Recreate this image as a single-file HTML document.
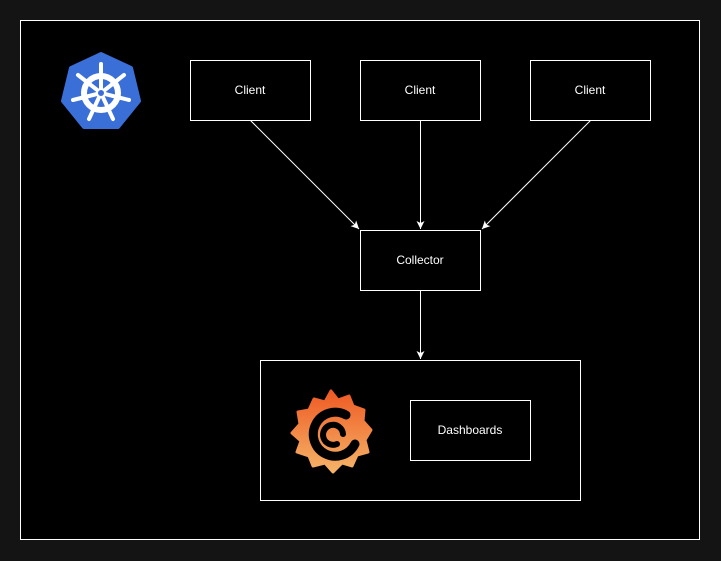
<!DOCTYPE html>
<html><head><style>
html,body{margin:0;padding:0;background:#141414;}
svg{display:block;font-family:"Liberation Sans",sans-serif;}
</style></head><body>
<svg width="721" height="561" viewBox="0 0 721 561" xmlns="http://www.w3.org/2000/svg">
<defs>
<marker id="a" markerWidth="10" markerHeight="10" refX="8" refY="5" orient="auto" markerUnits="userSpaceOnUse">
<path d="M0,1 L8,5 L0,9 L2,5 Z" fill="#fff"/>
</marker>
<linearGradient id="g" x1="0" y1="0" x2="0" y2="1">
<stop offset="0" stop-color="#ee5a24"/><stop offset="1" stop-color="#f5b468"/>
</linearGradient>
</defs>
<rect x="20.5" y="20.5" width="679" height="519" fill="#000" stroke="#fff"/>
<!-- kubernetes -->
<polygon points="101,54 131,68 139,101 118,127 84,127 63,101 71,68" fill="#3b6fd8" stroke="#3b6fd8" stroke-width="4" stroke-linejoin="round"/>
<g stroke="#fff" fill="none" stroke-linecap="round">
<circle cx="101" cy="93" r="17" stroke-width="6"/>
<g stroke-width="4">
<line x1="101" y1="93" x2="101" y2="64"/>
<line x1="101" y1="93" x2="124" y2="75"/>
<line x1="101" y1="93" x2="129" y2="100"/>
<line x1="101" y1="93" x2="113" y2="119"/>
<line x1="101" y1="93" x2="89" y2="119"/>
<line x1="101" y1="93" x2="73" y2="100"/>
<line x1="101" y1="93" x2="78" y2="75"/>
</g>
</g>
<circle cx="101" cy="93" r="4" fill="#3b6fd8" stroke="#fff" stroke-width="2"/>
<g fill="#000" stroke="#fff">
<rect x="190.5" y="60.5" width="120" height="60"/>
<rect x="360.5" y="60.5" width="120" height="60"/>
<rect x="530.5" y="60.5" width="120" height="60"/>
<rect x="360.5" y="230.5" width="120" height="60"/>
<rect x="260.5" y="360.5" width="320" height="140"/>
<rect x="410.5" y="400.5" width="120" height="60"/>
</g>
<g fill="#fff" font-size="12" text-anchor="middle">
<text x="250" y="94">Client</text>
<text x="420" y="94">Client</text>
<text x="590" y="94">Client</text>
<text x="420" y="264">Collector</text>
<text x="470" y="434">Dashboards</text>
</g>
<g stroke="#fff" fill="none" marker-end="url(#a)">
<line x1="250.5" y1="120.5" x2="359" y2="229"/>
<line x1="420.5" y1="120.5" x2="420.5" y2="229"/>
<line x1="590.5" y1="120.5" x2="482" y2="229"/>
<line x1="420.5" y1="290.5" x2="420.5" y2="359"/>
</g>
<!-- grafana -->
<g>
<path d="M331,391 L338,400 L349,396 L353,406 L364,410 L363,421 L371,430 L365,440 L368,452 L357,455 L352,466 L342,463 L333,472 L325,463 L313,466 L309,456 L297,452 L301,441 L292,433 L300,424 L298,412 L309,410 L314,399 L325,402 Z" fill="url(#g)" stroke="url(#g)" stroke-width="3" stroke-linejoin="round"/>
<path d="M346,415 A22,22 0 1 0 355,444" fill="none" stroke="#000" stroke-width="9" stroke-linecap="round"/>
<path d="M343,434 A10,10 0 1 0 337,444" fill="none" stroke="#000" stroke-width="6" stroke-linecap="round"/>
</g>
</svg>
</body></html>
